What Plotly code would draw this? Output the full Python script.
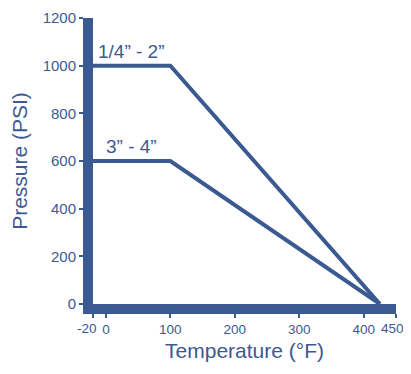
import plotly.graph_objects as go

BLUE = "#3c5a92"

temp_small = [-20, 100, 425]
psi_small = [1000, 1000, 0]
temp_large = [-20, 100, 425]
psi_large = [600, 600, 0]
x_ticks = [-20, 0, 100, 200, 300, 400, 450]
y_ticks = [0, 200, 400, 600, 800, 1000, 1200]
labels = ["1/4\u201d - 2\u201d", "3\u201d - 4\u201d"]

fig = go.Figure()
fig.add_trace(go.Scatter(x=temp_small, y=psi_small, mode="lines",
                         line=dict(color=BLUE, width=4), cliponaxis=False, showlegend=False))
fig.add_trace(go.Scatter(x=temp_large, y=psi_large, mode="lines",
                         line=dict(color=BLUE, width=4), cliponaxis=False, showlegend=False))

fig.add_annotation(x=40, y=psi_small[0], text=labels[0], showarrow=False,
                   yanchor="bottom", yshift=2, font=dict(size=19, color=BLUE))
fig.add_annotation(x=40, y=psi_large[0], text=labels[1], showarrow=False,
                   yanchor="bottom", yshift=2, font=dict(size=19, color=BLUE))

# end tick labels drawn as annotations so they sit under the axis ends without overlapping
fig.add_annotation(x=x_ticks[0], y=0, text=str(x_ticks[0]), showarrow=False,
                   xshift=-6, yanchor="top", yshift=-15, font=dict(size=13.5, color=BLUE))
fig.add_annotation(x=x_ticks[-1], y=0, text=str(x_ticks[-1]), showarrow=False,
                   xshift=-4, yanchor="top", yshift=-15, font=dict(size=13.5, color=BLUE))

fig.update_layout(
    width=395, height=358,
    margin=dict(l=85, r=7, t=10, b=62),
    plot_bgcolor="white", paper_bgcolor="white",
    font=dict(family="Liberation Sans, Arial, sans-serif", color=BLUE, size=15),
)
fig.update_xaxes(range=[-20, 450], tickvals=x_ticks,
                 ticktext=[""] + [str(v) for v in x_ticks[1:-1]] + [""],
                 tickangle=0, automargin=False, ticklabeloverflow="allow",
                 showgrid=False, zeroline=False,
                 showline=True, linecolor=BLUE, linewidth=10,
                 ticks="outside", ticklen=4, tickwidth=1.5, tickcolor=BLUE,
                 tickfont=dict(size=13.5, color=BLUE),
                 title=dict(text="Temperature (\u00b0F)", font=dict(size=21, color=BLUE), standoff=11))
fig.update_yaxes(range=[0, 1200], tickvals=y_ticks, automargin=False,
                 ticklabeloverflow="allow",
                 showgrid=False, zeroline=False,
                 showline=True, linecolor=BLUE, linewidth=10,
                 ticks="outside", ticklen=4, tickwidth=1.5, tickcolor=BLUE,
                 tickfont=dict(size=15, color=BLUE),
                 title=dict(text="Pressure (PSI)", font=dict(size=21, color=BLUE), standoff=15))

fig.write_html("out.html")
